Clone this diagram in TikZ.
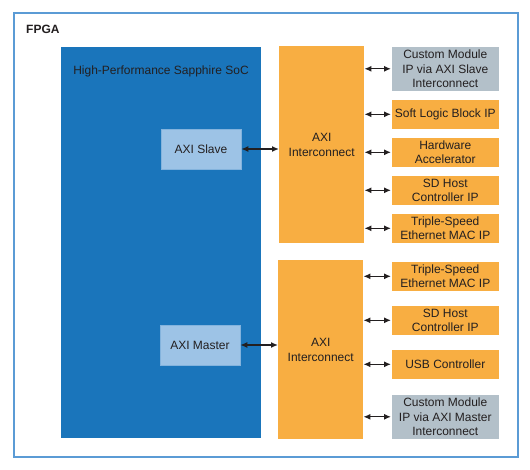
\documentclass[tikz,border=0pt]{standalone}
\usepackage{fontspec}
\setmainfont{Liberation Sans}
\usetikzlibrary{arrows.meta}
\definecolor{fpgaborder}{HTML}{5B9BD5}
\definecolor{socblue}{HTML}{1A75BB}
\definecolor{axilight}{HTML}{9DC3E6}
\definecolor{ipor}{HTML}{F8AE42}
\definecolor{ipgray}{HTML}{B3C0C9}
\definecolor{txt}{HTML}{231F20}
\begin{document}
\begin{tikzpicture}[x=1pt,y=-1pt,
  every node/.style={font=\fontsize{12}{14.5}\selectfont, text=txt, inner sep=0pt, align=center},
  orbox/.style={fill=ipor, draw=white, line width=0.6pt, minimum width=108pt, anchor=north west},
  graybox/.style={fill=ipgray, draw=white, line width=0.6pt, minimum width=108pt, anchor=north west},
  arr/.style={{Latex[length=7pt,width=6pt]}-{Latex[length=7pt,width=6pt]}, line width=1.3pt, draw=txt}]
\useasboundingbox (0,0) rectangle (530,470);
\fill[white] (0,0) rectangle (530,470);
\node[draw=fpgaborder, line width=1.6pt, minimum width=504pt, minimum height=444pt, anchor=north west] (fpga) at (13,12) {};
\node[anchor=west, font=\fontsize{12}{14.5}\selectfont\bfseries] (fpgalbl) at (26,29) {FPGA};
\node[fill=socblue, minimum width=200pt, minimum height=391pt, anchor=north west] (soc) at (61,47) {};
\node (soclbl) at (161,71) {High-Performance Sapphire SoC};
\node[fill=axilight, draw=axilight!80!socblue, line width=0.5pt, minimum width=80pt, minimum height=40pt] (slave) at (201,149) {AXI Slave};
\node[fill=axilight, draw=axilight!80!socblue, line width=0.5pt, minimum width=80pt, minimum height=40pt] (master) at (200,345) {AXI Master};
\node[fill=ipor, minimum width=85pt, minimum height=197pt, anchor=north west] (ic1) at (279,46) {};
\node (ic1lbl) at (ic1.center) {AXI\\Interconnect};
\node[fill=ipor, minimum width=85pt, minimum height=179pt, anchor=north west] (ic2) at (278,260) {};
\node (ic2lbl) at (ic2.center) {AXI\\Interconnect};
% top group
\node[graybox, minimum height=45pt] (t1) at (391,46) {Custom Module\\IP via AXI Slave\\Interconnect};
\node[orbox, minimum height=30pt] (t2) at (391,99) {Soft Logic Block IP};
\node[orbox, minimum height=30pt] (t3) at (391,137) {Hardware\\Accelerator};
\node[orbox, minimum height=30pt] (t4) at (391,175) {SD Host\\Controller IP};
\node[orbox, minimum height=30pt] (t5) at (391,213) {Triple-Speed\\Ethernet MAC IP};
% bottom group
\node[orbox, minimum height=30pt] (b1) at (391,261) {Triple-Speed\\Ethernet MAC IP};
\node[orbox, minimum height=30pt] (b2) at (391,305) {SD Host\\Controller IP};
\node[orbox, minimum height=30pt] (b3) at (391,349) {USB Controller};
\node[graybox, minimum height=45pt] (b4) at (391,394) {Custom Module\\IP via AXI Master\\Interconnect};
% arrows
\draw[arr] (slave.east) -- (ic1.west |- slave.east);
\draw[arr] (master.east) -- (ic2.west |- master.east);
\foreach \n in {t1,t2,t3,t4,t5}{\draw[arr] (ic1.east |- \n.west) -- (\n.west);}
\foreach \n in {b1,b2,b3,b4}{\draw[arr] (ic2.east |- \n.west) -- (\n.west);}
\end{tikzpicture}
\end{document}
